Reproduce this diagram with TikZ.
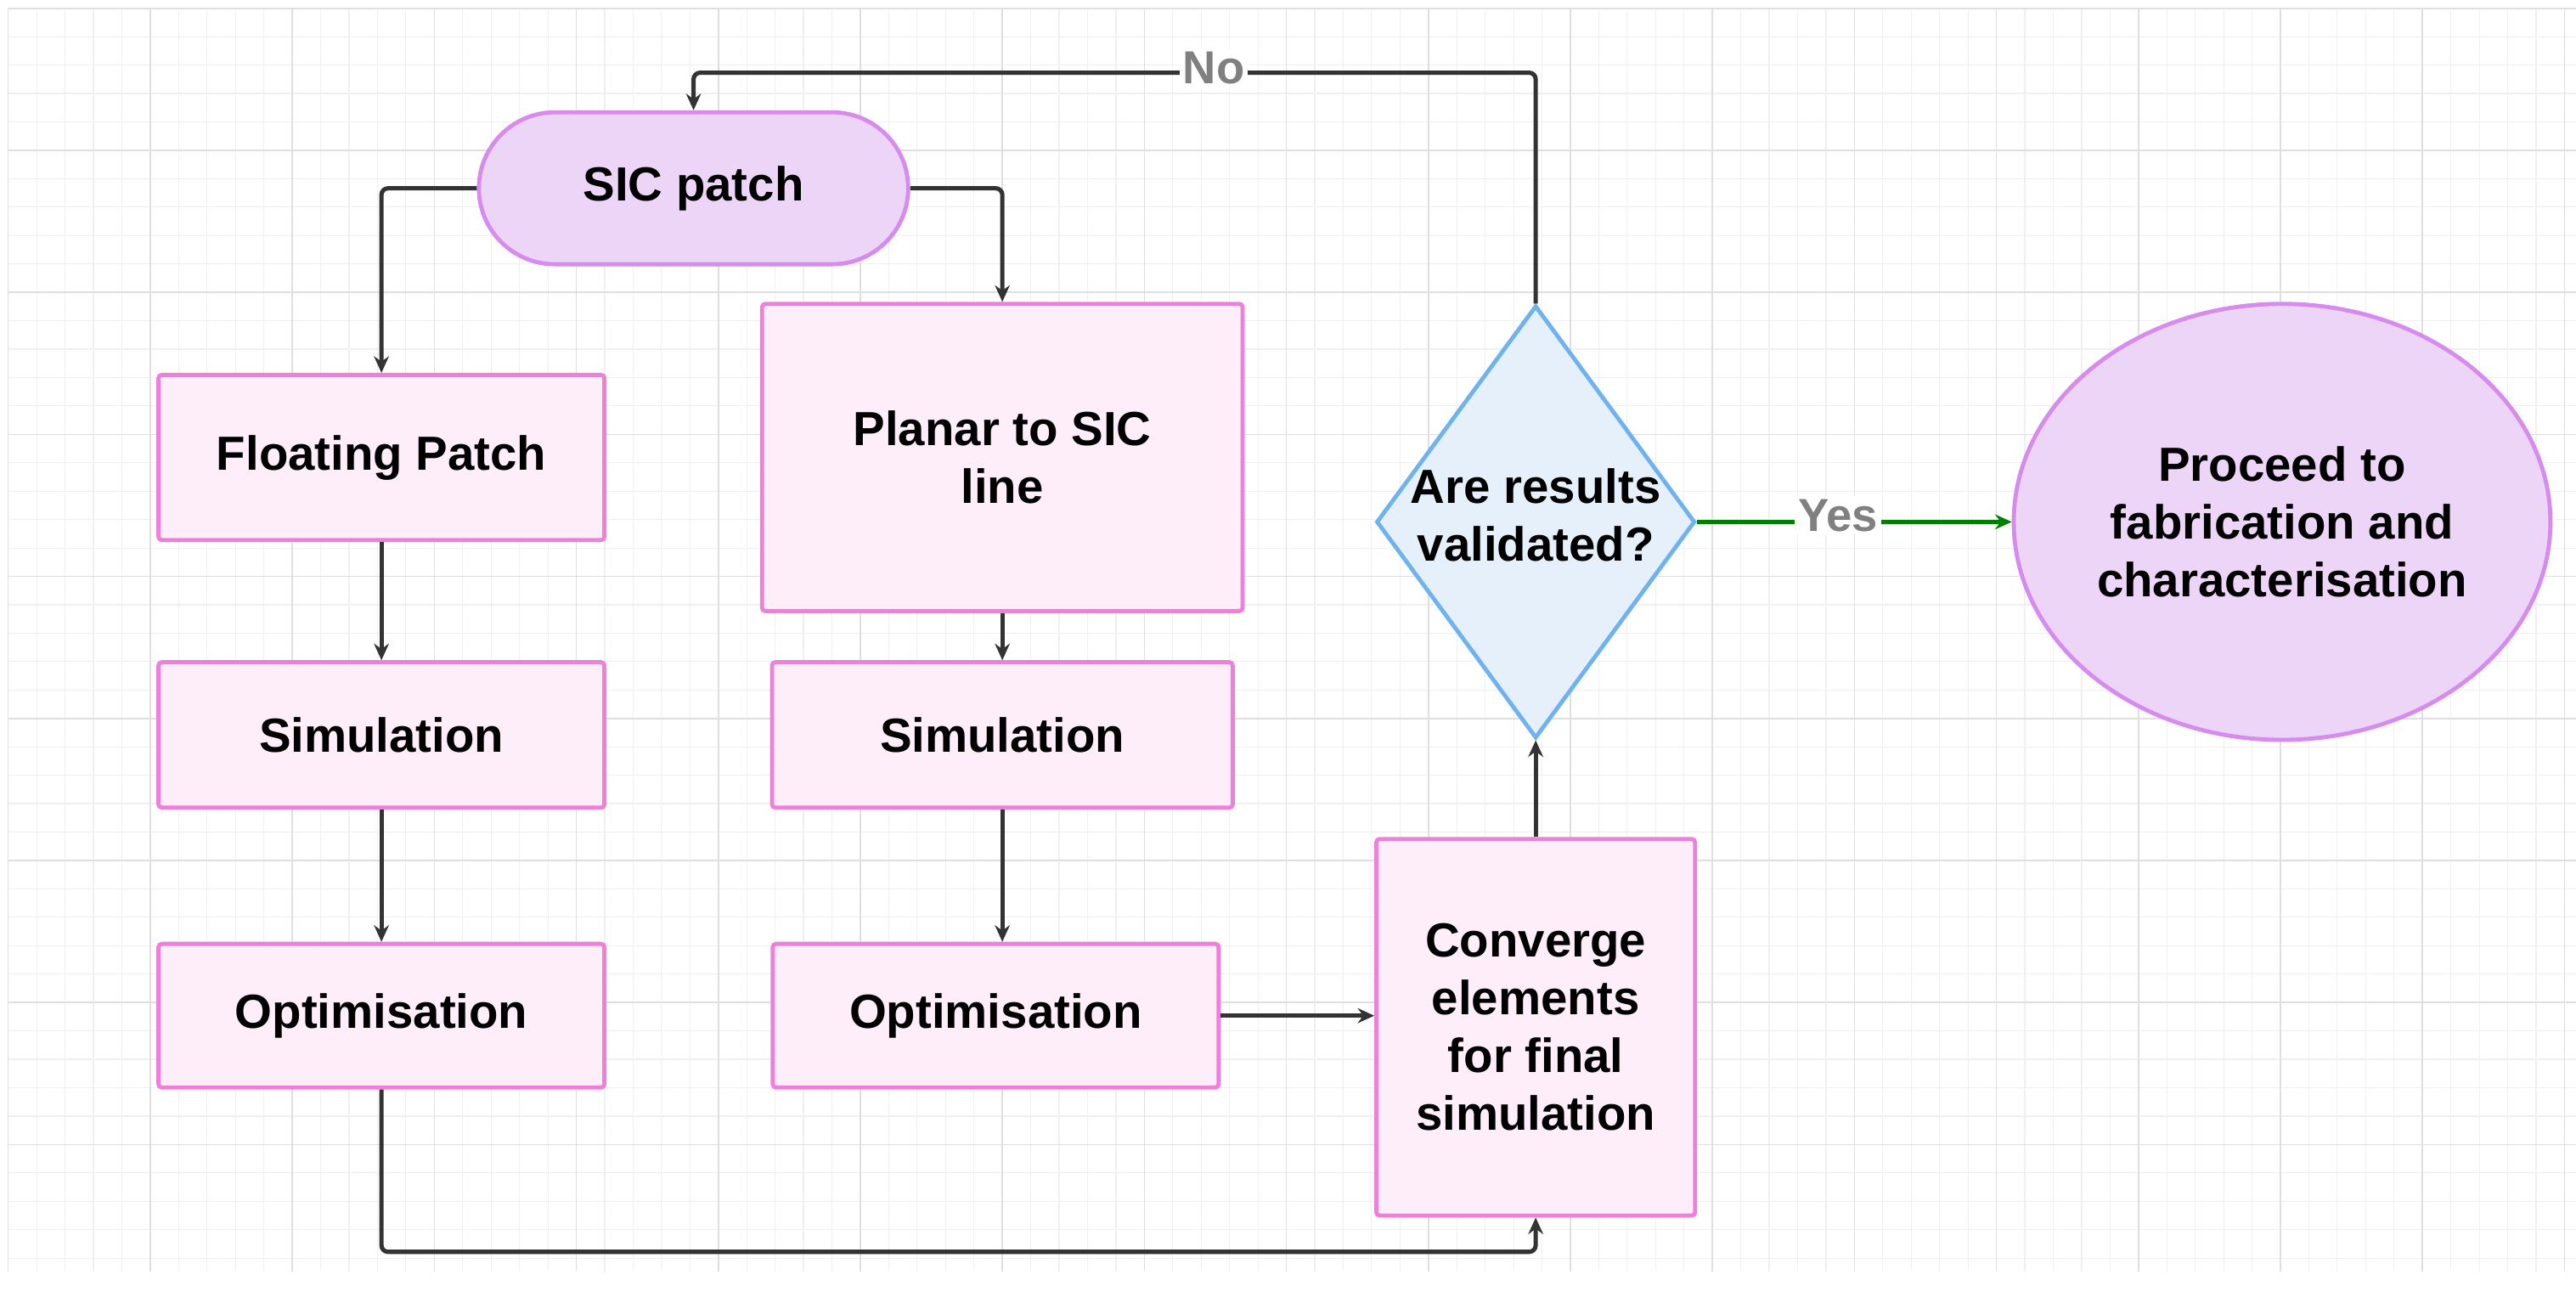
\documentclass[tikz,border=0pt]{standalone}
\usepackage{fontspec}
\setmainfont{Liberation Sans}
\usetikzlibrary{shapes.geometric,arrows.meta}
\definecolor{pfill}{HTML}{FDEEFA}
\definecolor{pbord}{HTML}{F07FDC}
\definecolor{vfill}{HTML}{EDD5F8}
\definecolor{vbord}{HTML}{D68BEE}
\definecolor{bfill}{HTML}{E6F0FA}
\definecolor{bbord}{HTML}{6FB2F0}
\definecolor{ln}{HTML}{333333}
\begin{document}
\begin{tikzpicture}[x=1pt,y=-1pt,
 txt/.style={font=\fontsize{29}{35}\selectfont\bfseries,text=black,align=center},
 box/.style={txt,draw=pbord,fill=pfill,line width=2.5pt,rounded corners=2pt,inner sep=0pt},
 arr/.style={draw=ln,line width=2.6pt,-{Stealth[length=10pt,width=9pt]},rounded corners=4pt},
 lab/.style={font=\fontsize{28}{32}\selectfont\bfseries,text=gray,fill=white,inner sep=2pt}]
\useasboundingbox (0,0) rectangle (1560,782);
\fill[white] (0,0) rectangle (1560,782);
\foreach \i in {0,...,90} {\draw[gray!12,line width=0.6pt] (5+17.2*\i,5) -- (5+17.2*\i,770);}
\foreach \i in {0,...,44} {\draw[gray!12,line width=0.6pt] (5,5+17.2*\i) -- (1560,5+17.2*\i);}
\foreach \i in {0,...,18} {\draw[gray!25,line width=0.8pt] (5+86*\i,5) -- (5+86*\i,770);}
\foreach \i in {0,...,8} {\draw[gray!25,line width=0.8pt] (5,5+86*\i) -- (1560,5+86*\i);}

\node[txt,draw=vbord,fill=vfill,line width=2.5pt,rounded corners=46pt,minimum width=260pt,minimum height=92pt] (sic) at (420,114) {SIC patch};
\node[box,minimum width=270pt,minimum height=100pt] (fp) at (231,277) {Floating Patch};
\node[box,minimum width=270pt,minimum height=88pt] (s1) at (231,445) {Simulation};
\node[box,minimum width=270pt,minimum height=87pt] (o1) at (231,615) {Optimisation};
\node[box,minimum width=291pt,minimum height=186pt] (pl) at (607,277) {Planar to SIC\\line};
\node[box,minimum width=279pt,minimum height=88pt] (s2) at (607,445) {Simulation};
\node[box,minimum width=270pt,minimum height=87pt] (o2) at (603,615) {Optimisation};
\node[box,minimum width=193pt,minimum height=228pt] (cv) at (930,622) {Converge\\elements\\for final\\simulation};
\node[txt,diamond,draw=bbord,fill=bfill,line width=2.5pt,minimum width=193pt,minimum height=262pt,aspect=0.74,inner sep=0pt] (dm) at (930,316) {};
\node[txt] at (930,312) {Are results\\validated?};
\node[txt,ellipse,draw=vbord,fill=vfill,line width=2.5pt,minimum width=325pt,minimum height=264pt,inner sep=0pt] (el) at (1382,316) {Proceed to\\fabrication and\\characterisation};

\draw[arr] (sic.west) -| (fp.north);
\draw[arr] (sic.east) -| (pl.north);
\draw[arr] (fp) -- (s1);
\draw[arr] (s1) -- (o1);
\draw[arr] (pl) -- (s2);
\draw[arr] (s2) -- (s2|-o2.north);
\draw[arr] (o2) -- (cv.west|-o2);
\draw[arr] (o1.south) |- (600,758) -| (cv.south);
\draw[arr] (cv) -- (dm.south);
\draw[arr] (dm.north) |- (600,44) -| (sic.north);
\node[lab] at (735,41) {No};
\draw[draw=green!50!black,line width=2.6pt,-{Stealth[length=10pt,width=9pt]}] (dm.east) -- (el.west);
\node[lab] at (1113,312) {Yes};
\end{tikzpicture}
\end{document}
